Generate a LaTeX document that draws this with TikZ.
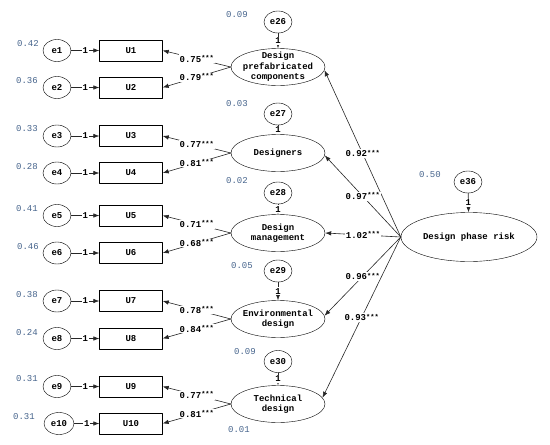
\documentclass[tikz,border=0pt]{standalone}
\usepackage{fontspec}
\usepackage{tikz}
\usetikzlibrary{arrows.meta,shapes.geometric}
\newfontfamily\semfont{Liberation Mono}
\definecolor{varblue}{RGB}{70,100,140}
\newcommand{\stars}{\raisebox{.35ex}{\fontsize{7}{7}\selectfont ***}}

\begin{document}
\begin{tikzpicture}[x=1pt,y=-1pt,line cap=round,line join=round,
  font=\semfont\bfseries\fontsize{9}{10.5}\selectfont,
  errvar/.style={draw,ellipse,minimum width=28pt,minimum height=22pt,inner sep=0pt},
  item/.style={draw,rectangle,minimum width=63pt,minimum height=21pt,inner sep=0pt},
  latent/.style={draw,ellipse,minimum width=94pt,minimum height=37pt,inner sep=-2pt,align=center},
  varlab/.style={font=\semfont\fontsize{9}{10}\selectfont,text=varblue},
  arr/.style={draw=black!85,line width=.6pt,-{Latex[length=6pt,width=4.5pt]}},
  coef/.style={fill=white,inner sep=1pt}]
\path[use as bounding box] (0,0) rectangle (550,445);
\node[errvar] (e1) at (57,50.5) {e1};
\node[errvar] (e2) at (57,87.5) {e2};
\node[errvar] (e3) at (57,136) {e3};
\node[errvar] (e4) at (57,173) {e4};
\node[errvar] (e5) at (57,215.5) {e5};
\node[errvar] (e6) at (57,253) {e6};
\node[errvar] (e7) at (57,301) {e7};
\node[errvar] (e8) at (57,338.5) {e8};
\node[errvar] (e9) at (57,386.5) {e9};
\node[errvar,minimum width=30pt] (e10) at (59,423.5) {e10};
\node[item] (U1) at (131,50.5) {U1};
\node[item] (U2) at (131,87.5) {U2};
\node[item] (U3) at (131,136) {U3};
\node[item] (U4) at (131,173) {U4};
\node[item] (U5) at (131,215.5) {U5};
\node[item] (U6) at (131,253) {U6};
\node[item] (U7) at (131,301) {U7};
\node[item] (U8) at (131,338.5) {U8};
\node[item] (U9) at (131,386.5) {U9};
\node[item] (U10) at (131,423.5) {U10};
\node[varlab] (v1) at (28,44) {0.42};
\node[varlab] (v2) at (27,81) {0.36};
\node[varlab] (v3) at (27,129) {0.33};
\node[varlab] (v4) at (27,167) {0.28};
\node[varlab] (v5) at (27,209) {0.41};
\node[varlab] (v6) at (28,247) {0.46};
\node[varlab] (v7) at (27,295) {0.38};
\node[varlab] (v8) at (27,333) {0.24};
\node[varlab] (v9) at (27,379) {0.31};
\node[varlab] (v10) at (24,417) {0.31};
\node[latent] (PC) at (278,67) {Design\\prefabricated\\components};
\node[latent] (DS) at (278,153) {Designers};
\node[latent] (DM) at (278,233) {Design\\management};
\node[latent] (ED) at (278,319) {Environmental\\design};
\node[latent] (TD) at (278,404) {Technical\\design};
\node[latent,minimum width=136pt,minimum height=49pt] (risk) at (469,237) {Design phase risk};
\node[errvar] (e26) at (278,22) {e26};
\node[errvar] (e27) at (278,114) {e27};
\node[errvar] (e28) at (278,193) {e28};
\node[errvar] (e29) at (278,271) {e29};
\node[errvar] (e30) at (278,361.5) {e30};
\node[errvar] (e36) at (468,182) {e36};
\node[varlab] (v26) at (237,15) {0.09};
\node[varlab] (v27) at (237,104) {0.03};
\node[varlab] (v28) at (237,181) {0.02};
\node[varlab] (v29) at (242,266) {0.05};
\node[varlab] (v30) at (245,352) {0.09};
\node[varlab] (vTD) at (239,430) {0.01};
\node[varlab] (v36) at (430,175) {0.50};
\draw[arr] (e1) -- node[coef] {1} (U1);
\draw[arr] (e2) -- node[coef] {1} (U2);
\draw[arr] (e3) -- node[coef] {1} (U3);
\draw[arr] (e4) -- node[coef] {1} (U4);
\draw[arr] (e5) -- node[coef] {1} (U5);
\draw[arr] (e6) -- node[coef] {1} (U6);
\draw[arr] (e7) -- node[coef] {1} (U7);
\draw[arr] (e8) -- node[coef] {1} (U8);
\draw[arr] (e9) -- node[coef] {1} (U9);
\draw[arr] (e10) -- node[coef] {1} (U10);
\draw[arr] (e26) -- node[coef] {1} (PC);
\draw[arr] (e27) -- node[coef] {1} (DS);
\draw[arr] (e28) -- node[coef] {1} (DM);
\draw[arr] (e29) -- node[coef] {1} (ED);
\draw[arr] (e30) -- node[coef] {1} (TD);
\draw[arr] (e36) -- node[coef] {1} (risk);
\draw[arr] (PC.west) -- node[coef] {0.75\stars} (U1.east);
\draw[arr] (PC.west) -- node[coef] {0.79\stars} (U2.east);
\draw[arr] (DS.west) -- node[coef] {0.77\stars} (U3.east);
\draw[arr] (DS.west) -- node[coef] {0.81\stars} (U4.east);
\draw[arr] (DM.west) -- node[coef] {0.71\stars} (U5.east);
\draw[arr] (DM.west) -- node[coef] {0.68\stars} (U6.east);
\draw[arr] (ED.west) -- node[coef] {0.78\stars} (U7.east);
\draw[arr] (ED.west) -- node[coef] {0.84\stars} (U8.east);
\draw[arr] (TD.west) -- node[coef] {0.77\stars} (U9.east);
\draw[arr] (TD.west) -- node[coef] {0.81\stars} (U10.east);
\draw[arr] (risk.west) -- node[coef] {0.92\stars} (PC.-4);
\draw[arr] (risk.west) -- node[coef] {0.97\stars} (DS.-3);
\draw[arr] (risk.west) -- node[coef] {1.02\stars} (DM.east);
\draw[arr] (risk.west) -- node[coef] {0.96\stars} (ED.4);
\draw[arr] (risk.west) -- node[coef] {0.93\stars} (TD.8);
\end{tikzpicture}
\end{document}
